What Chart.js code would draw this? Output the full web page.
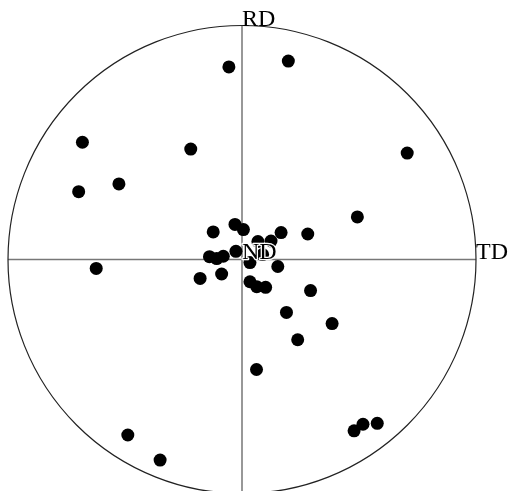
<!DOCTYPE html>
<html>
<head>
<meta charset="utf-8">
<script src="https://cdn.jsdelivr.net/npm/chart.js@4/dist/chart.umd.min.js"></script>
<style>
  html, body { margin: 0; padding: 0; background: #fff; overflow: hidden; }
  canvas { display: block; }
</style>
</head>
<body>
<canvas id="poleChart" width="508" height="500"></canvas>
<script>
// pole positions, normalised to the unit circle (TD = x, RD = y)
const tdValues = [-0.056, 0.198, -0.682, -0.219, -0.526, -0.698, 0.706, 0.493,
  -0.123, -0.030, 0.006, 0.068, 0.124, 0.167, 0.281, -0.026, -0.139, -0.108,
  -0.080, 0.088, 0.034, 0.153, -0.179, -0.087, 0.034, 0.063, 0.101, 0.293,
  0.190, 0.385, 0.238, 0.062, -0.623, -0.488, -0.350, 0.479, 0.517, 0.578];
const rdValues = [0.823, 0.848, 0.501, 0.472, 0.323, 0.290, 0.455, 0.182,
  0.118, 0.150, 0.128, 0.077, 0.079, 0.115, 0.109, 0.035, 0.012, 0.004,
  0.014, 0.021, -0.013, -0.030, -0.081, -0.062, -0.095, -0.116, -0.119, -0.133,
  -0.226, -0.274, -0.343, -0.470, -0.038, -0.750, -0.857, -0.732, -0.704, -0.700];
const axisLabels = ['RD', 'TD', 'ND'];

const points = tdValues.map((x, i) => ({ x: x, y: rdValues[i] }));

// circle, RD/TD axes and their labels
const poleFrame = {
  id: 'poleFrame',
  beforeDatasetsDraw(chart) {
    const { ctx, scales: { x, y } } = chart;
    const cx = x.getPixelForValue(0);
    const cy = y.getPixelForValue(0);
    const r = x.getPixelForValue(1) - cx;
    ctx.save();
    ctx.strokeStyle = '#777';
    ctx.lineWidth = 1.5;
    ctx.beginPath();
    ctx.moveTo(x.getPixelForValue(-1), cy);
    ctx.lineTo(x.getPixelForValue(1), cy);
    ctx.moveTo(cx, y.getPixelForValue(1));
    ctx.lineTo(cx, y.getPixelForValue(-1));
    ctx.stroke();
    ctx.strokeStyle = '#222';
    ctx.lineWidth = 1.2;
    ctx.beginPath();
    ctx.arc(cx, cy, r, 0, Math.PI * 2);
    ctx.stroke();
    ctx.restore();
  },
  afterDatasetsDraw(chart) {
    const { ctx, scales: { x, y } } = chart;
    const cx = x.getPixelForValue(0);
    const cy = y.getPixelForValue(0);
    ctx.save();
    ctx.font = '24px "Liberation Serif", "DejaVu Serif", serif';
    ctx.textAlign = 'left';
    ctx.textBaseline = 'alphabetic';
    ctx.fillStyle = '#000';
    ctx.fillText(axisLabels[0], cx, y.getPixelForValue(1) + 0.5);
    ctx.fillText(axisLabels[1], x.getPixelForValue(1), cy - 1);
    ctx.strokeStyle = '#fff';
    ctx.lineWidth = 2.5;
    ctx.lineJoin = 'round';
    ctx.strokeText(axisLabels[2], cx, cy - 0.5);
    ctx.fillText(axisLabels[2], cx, cy - 0.5);
    ctx.restore();
  }
};

new Chart(document.getElementById('poleChart'), {
  type: 'scatter',
  data: {
    datasets: [{
      data: points,
      backgroundColor: '#000',
      borderWidth: 0,
      pointRadius: 6.5,
      clip: false,
    }],
  },
  options: {
    responsive: false,
    animation: false,
    devicePixelRatio: 1,
    layout: { padding: { left: 8, right: 32, top: 25.5, bottom: 6.5 } },
    plugins: { legend: { display: false }, tooltip: { enabled: false } },
    scales: {
      x: { type: 'linear', min: -1, max: 1, display: false },
      y: { type: 'linear', min: -1, max: 1, display: false },
    },
  },
  plugins: [poleFrame],
});
</script>
</body>
</html>
